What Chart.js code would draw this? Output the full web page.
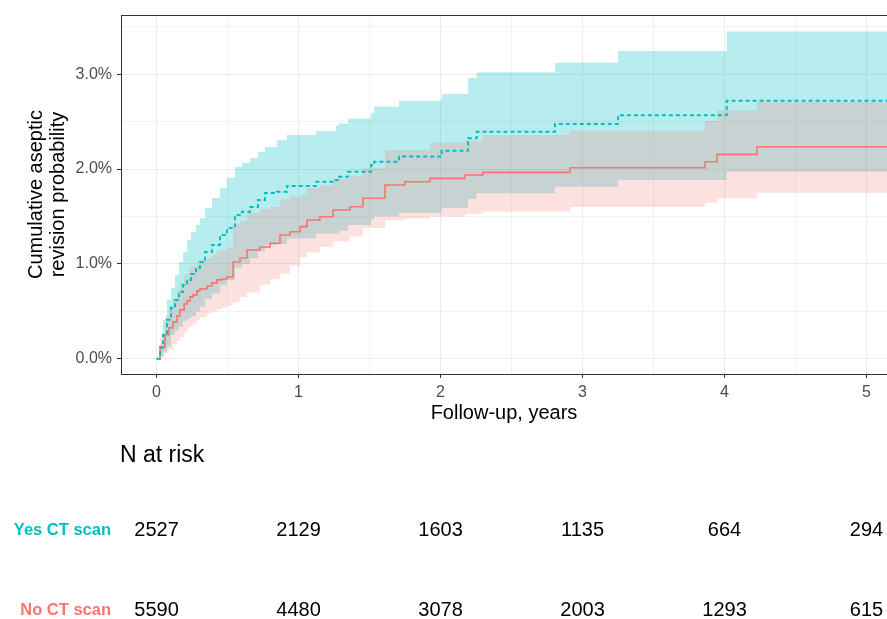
<!DOCTYPE html>
<html>
<head>
<meta charset="utf-8">
<script src="https://cdn.jsdelivr.net/npm/chart.js@4.4.1/dist/chart.umd.min.js"></script>
<style>
html, body { margin: 0; padding: 0; background: #fff; }
#wrap { width: 887px; height: 619px; position: relative; }
</style>
</head>
<body>
<div id="wrap"><canvas id="km"></canvas></div>
<script>
var groupNames  = ["Yes CT scan", "No CT scan"];
var groupColors = ["#00BFC4", "#F8766D"];

// Yes CT scan: step times (years), cumulative revision (%) and 95% band
var yesTime = [0, 0.025, 0.046, 0.074, 0.102, 0.130, 0.158, 0.187, 0.215, 0.243, 0.278, 0.306, 0.342, 0.391, 0.447, 0.496, 0.553, 0.602, 0.658, 0.715, 0.764, 0.849, 0.919, 1.124, 1.264, 1.285, 1.349, 1.511, 1.532, 1.708, 2.008, 2.194, 2.255, 2.806, 3.250, 4.015, 5.300];
var yesEst  = [0, 0.116, 0.253, 0.411, 0.537, 0.621, 0.705, 0.779, 0.832, 0.895, 0.958, 1.021, 1.126, 1.200, 1.305, 1.379, 1.516, 1.550, 1.600, 1.674, 1.747, 1.761, 1.821, 1.866, 1.884, 1.919, 1.972, 2.042, 2.077, 2.132, 2.193, 2.326, 2.393, 2.474, 2.568, 2.719, 2.719];
var yesHi   = [0, 0.147, 0.411, 0.621, 0.747, 0.884, 1.021, 1.126, 1.253, 1.337, 1.411, 1.484, 1.589, 1.695, 1.800, 1.905, 2.021, 2.063, 2.116, 2.179, 2.232, 2.305, 2.358, 2.40, 2.46, 2.48, 2.53, 2.59, 2.66, 2.72, 2.79, 2.96, 3.02, 3.12, 3.245, 3.45, 3.45];
var yesLo   = [0, 0.02, 0.07, 0.13, 0.25, 0.30, 0.34, 0.40, 0.42, 0.45, 0.50, 0.55, 0.63, 0.69, 0.78, 0.83, 0.96, 1.00, 1.06, 1.13, 1.20, 1.21, 1.27, 1.32, 1.32, 1.35, 1.41, 1.47, 1.50, 1.537, 1.59, 1.684, 1.744, 1.814, 1.884, 1.972, 1.972];

// No CT scan
var noTime = [0, 0.025, 0.060, 0.088, 0.116, 0.144, 0.165, 0.194, 0.215, 0.236, 0.257, 0.285, 0.306, 0.356, 0.391, 0.426, 0.461, 0.496, 0.539, 0.588, 0.637, 0.729, 0.800, 0.870, 0.940, 1.011, 1.060, 1.151, 1.243, 1.363, 1.454, 1.609, 1.750, 1.926, 2.173, 2.299, 2.912, 3.863, 3.947, 4.229, 5.300];
var noEst  = [0, 0.126, 0.253, 0.326, 0.389, 0.453, 0.516, 0.579, 0.611, 0.653, 0.674, 0.716, 0.737, 0.768, 0.800, 0.832, 0.842, 0.863, 1.021, 1.063, 1.147, 1.179, 1.218, 1.305, 1.340, 1.393, 1.463, 1.498, 1.568, 1.603, 1.692, 1.832, 1.866, 1.902, 1.937, 1.965, 2.014, 2.077, 2.155, 2.235, 2.235];
var noLo   = [0, 0.02, 0.06, 0.10, 0.15, 0.19, 0.23, 0.28, 0.32, 0.34, 0.37, 0.41, 0.44, 0.48, 0.50, 0.52, 0.54, 0.56, 0.60, 0.65, 0.70, 0.78, 0.84, 0.90, 0.98, 1.07, 1.12, 1.18, 1.24, 1.29, 1.38, 1.46, 1.48, 1.50, 1.53, 1.55, 1.60, 1.645, 1.69, 1.75, 1.75];
var noHi   = [0, 0.23, 0.45, 0.55, 0.63, 0.72, 0.80, 0.88, 0.90, 0.97, 0.98, 1.02, 1.04, 1.06, 1.10, 1.14, 1.15, 1.17, 1.42, 1.45, 1.54, 1.58, 1.60, 1.68, 1.71, 1.73, 1.80, 1.83, 1.90, 1.93, 2.01, 2.20, 2.20, 2.277, 2.30, 2.358, 2.405, 2.508, 2.62, 2.708, 2.708];

// number at risk table
var riskTimes = [0, 1, 2, 3, 4, 5];
var yesRisk = [2527, 2129, 1603, 1135, 664, 294];
var noRisk  = [5590, 4480, 3078, 2003, 1293, 615];

var FONT = '"Liberation Sans", Arial, sans-serif';
Chart.defaults.font.family = FONT;

function pts(xs, ys) {
  var out = [];
  for (var i = 0; i < xs.length; i++) out.push({x: xs[i], y: ys[i]});
  return out;
}
function isMajor(v) { return Math.abs(v - Math.round(v)) < 1e-6; }

function band(xs, ys, col, fillTo, ord) {
  return {
    data: pts(xs, ys), stepped: true, borderWidth: 0, pointRadius: 0,
    borderColor: 'rgba(0,0,0,0)', backgroundColor: col,
    fill: fillTo === null ? false : {target: fillTo, above: col, below: col},
    order: ord
  };
}

var extras = {
  id: 'extras',
  afterDraw: function (chart) {
    var ctx = chart.ctx, ca = chart.chartArea, xs = chart.scales.x;
    ctx.save();
    // top panel border
    ctx.strokeStyle = '#333333';
    ctx.lineWidth = 1;
    ctx.beginPath();
    ctx.moveTo(ca.left, ca.top + 0.5);
    ctx.lineTo(ca.right, ca.top + 0.5);
    ctx.stroke();

    ctx.textBaseline = 'middle';
    ctx.fillStyle = '#000';
    ctx.textAlign = 'left';
    ctx.font = '23px ' + FONT;
    ctx.fillText('N at risk', ca.left - 1, 456);

    var rows = [yesRisk, noRisk];
    var rowY = [530, 610];
    for (var g = 0; g < rows.length; g++) {
      ctx.textAlign = 'right';
      ctx.fillStyle = groupColors[g];
      ctx.font = 'bold 16.5px ' + FONT;
      ctx.fillText(groupNames[g], 111, rowY[g]);
      ctx.textAlign = 'center';
      ctx.fillStyle = '#000';
      ctx.font = '20px ' + FONT;
      for (var i = 0; i < riskTimes.length; i++) {
        ctx.fillText(String(rows[g][i]), xs.getPixelForValue(riskTimes[i]), rowY[g]);
      }
    }
    ctx.restore();
  }
};

new Chart(document.getElementById('km'), {
  type: 'line',
  data: {
    datasets: [
      band(yesTime, yesHi, 'rgba(0,191,196,0.28)', 1, 4),
      band(yesTime, yesLo, 'rgba(0,191,196,0.28)', null, 4),
      band(noTime, noHi, 'rgba(248,118,109,0.22)', 3, 3),
      band(noTime, noLo, 'rgba(248,118,109,0.22)', null, 3),
      {
        label: groupNames[1], data: pts(noTime, noEst), stepped: true,
        borderColor: groupColors[1], borderWidth: 1.6, pointRadius: 0, fill: false, order: 2
      },
      {
        label: groupNames[0], data: pts(yesTime, yesEst), stepped: true,
        borderColor: groupColors[0], borderWidth: 2, borderDash: [4, 3],
        pointRadius: 0, fill: false, order: 1
      }
    ]
  },
  options: {
    responsive: true,
    maintainAspectRatio: false,
    animation: false,
    devicePixelRatio: 1,
    layout: { padding: { top: 15, right: 0, bottom: 194, left: 0 } },
    plugins: { legend: { display: false }, tooltip: { enabled: false } },
    scales: {
      x: {
        type: 'linear', min: -0.25, max: 5.144,
        afterFit: function (s) { s.height = 51; },
        ticks: {
          stepSize: 0.5, includeBounds: false, autoSkip: false, maxRotation: 0,
          color: '#4d4d4d', font: { size: 16 }, padding: 5,
          callback: function (v) { return isMajor(v) ? String(Math.round(v)) : ''; }
        },
        grid: {
          color: function (c) { return c.tick && isMajor(c.tick.value) ? '#ebebeb' : '#f2f2f2'; },
          lineWidth: 1, tickLength: 4,
          tickColor: function (c) { return c.tick && isMajor(c.tick.value) ? '#333333' : 'rgba(0,0,0,0)'; }
        },
        border: { display: true, color: '#333333', width: 1 },
        title: {
          display: true, text: 'Follow-up, years', color: '#000',
          font: { size: 20 }, padding: { top: 0, bottom: 0 }
        }
      },
      y: {
        type: 'linear', min: -0.16, max: 3.624,
        afterFit: function (s) { s.width = 121; },
        ticks: {
          stepSize: 0.5, includeBounds: false, autoSkip: false,
          color: '#4d4d4d', font: { size: 16 }, padding: 5,
          callback: function (v) { return isMajor(v) ? Math.round(v).toFixed(1) + '%' : ''; }
        },
        grid: {
          color: function (c) { return c.tick && isMajor(c.tick.value) ? '#ebebeb' : '#f2f2f2'; },
          lineWidth: 1, tickLength: 4,
          tickColor: function (c) { return c.tick && isMajor(c.tick.value) ? '#333333' : 'rgba(0,0,0,0)'; }
        },
        border: { display: true, color: '#333333', width: 1 },
        title: {
          display: true, text: ['Cumulative aseptic', 'revision probability'], color: '#000',
          font: { size: 20, lineHeight: 1.1 }, padding: { top: 25, bottom: 0 }
        }
      }
    }
  },
  plugins: [extras]
});
</script>
</body>
</html>
